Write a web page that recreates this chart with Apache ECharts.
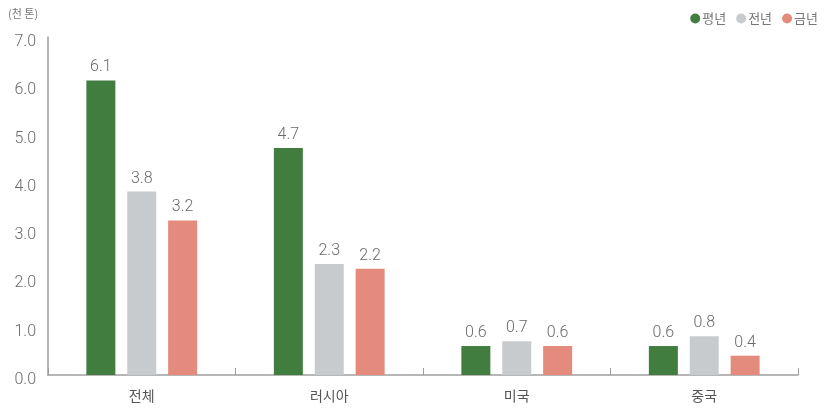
<!DOCTYPE html>
<html><head><meta charset="utf-8">
<script src="https://cdn.jsdelivr.net/npm/echarts@6/dist/echarts.min.js"></script>
<style>html,body{margin:0;padding:0;background:#fff}#c{width:830px;height:408px}</style>
</head><body><div id="c"></div>
<script>
const categories = ['전체', '러시아', '미국', '중국'];
const seriesNames = ['평년', '전년', '금년'];
const normalYear = [6.1, 4.7, 0.6, 0.6];
const lastYear = [3.8, 2.3, 0.7, 0.8];
const thisYear = [3.2, 2.2, 0.6, 0.4];
const colors = ['#417d3f', '#c8cbce', '#e48b7e'];
const FONT = '"Noto Sans CJK KR", "Noto Sans", sans-serif';
const NUMFONT = 'Roboto, "Noto Sans", sans-serif';

const chart = echarts.init(document.getElementById('c'), null, {renderer: 'canvas'});
const mk = (name, data, color) => ({
  name, type: 'bar', data, barWidth: 29, barGap: '41%',
  itemStyle: {color},
  label: {show: true, position: 'top', distance: 5, color: '#6a6a6a', fontSize: 16, fontWeight: 300, fontFamily: NUMFONT,
    formatter: p => p.value.toFixed(1)}
});
chart.setOption({
  animation: false,
  color: colors,
  grid: {left: 48, right: 32, top: 37, bottom: 33},
  graphic: [{type: 'text', left: 8, top: 8, style: {text: '(천 톤)', fill: '#777', fontSize: 11, fontFamily: FONT}}],
  legend: {
    right: 7, top: 7, icon: 'circle', itemWidth: 10, itemHeight: 10, itemGap: 10,
    textStyle: {color: '#777', fontSize: 13, fontFamily: FONT, padding: [0, 0, 0, -3]},
    data: seriesNames
  },
  xAxis: {
    type: 'category', data: categories,
    axisLine: {lineStyle: {color: '#9e9e9e', width: 1.5}},
    axisTick: {show: true, inside: true, length: 7, lineStyle: {color: '#9e9e9e'}},
    axisLabel: {color: '#555', fontSize: 14, fontFamily: FONT, margin: 14}
  },
  yAxis: {
    type: 'value', min: 0, max: 7, interval: 1,
    axisLine: {show: true, lineStyle: {color: '#9e9e9e', width: 1.5}},
    axisTick: {show: false},
    splitLine: {show: false},
    axisLabel: {color: '#6a6a6a', fontSize: 16, fontWeight: 300, fontFamily: NUMFONT, margin: 12,
      verticalAlign: 'top', lineHeight: 10,
      formatter: v => v.toFixed(1)}
  },
  series: [mk(seriesNames[0], normalYear, colors[0]), mk(seriesNames[1], lastYear, colors[1]), mk(seriesNames[2], thisYear, colors[2])]
});
</script></body></html>
